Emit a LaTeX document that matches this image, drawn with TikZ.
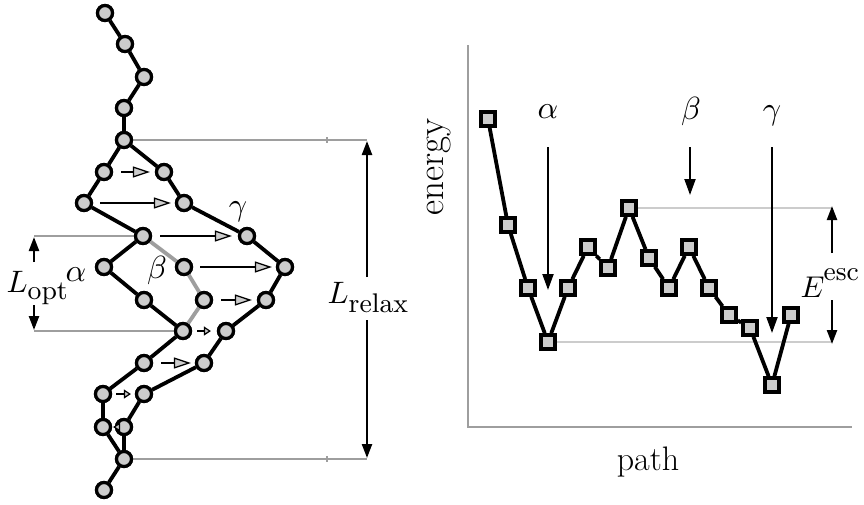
\documentclass[tikz,border=0pt]{standalone}
\usetikzlibrary{arrows.meta}
\definecolor{beadgray}{gray}{0.8}
\definecolor{chaingray}{gray}{0.62}
\definecolor{guidegray}{gray}{0.62}
\definecolor{lightguide}{gray}{0.8}
\begin{document}
\begin{tikzpicture}[x=1pt,y=-1pt,
  bead/.style={circle,draw=black,fill=beadgray,line width=3.2pt,minimum size=15pt,inner sep=0pt},
  sq/.style={rectangle,draw=black,fill=beadgray,line width=3.6pt,minimum size=14pt,inner sep=0pt},
  chain/.style={line width=3.8pt,black},
  gchain/.style={line width=3.8pt,chaingray},
  disp/.style={line width=2.1pt,-{Triangle[length=17pt,width=11pt,fill=beadgray,line width=1.3pt]}},
  tiny/.style={line width=1.7pt,-{Triangle[length=7pt,width=9pt,fill=beadgray,line width=1.2pt]}},
  dim/.style={line width=2.3pt,-{Triangle[length=14pt,width=10pt]}},
  guide/.style={line width=1.5pt,guidegray},
  lguide/.style={line width=1.3pt,lightguide},
  marker/.style={line width=2pt,-{Triangle[length=16pt,width=11pt]}},
  lab/.style={inner sep=0pt,scale=3.2},
  llab/.style={inner sep=0pt,scale=3.1},
  axlab/.style={inner sep=0pt,font=\fontsize{34}{40}\selectfont}
]
\useasboundingbox[fill=white] (0,0) rectangle (864,504);

% ---------------- left panel: beads ----------------
\node[bead] (b1) at (105,13) {};
\node[bead] (b2) at (125,44) {};
\node[bead] (b3) at (144,77) {};
\node[bead] (b4) at (124,108) {};
\node[bead] (b5) at (124,140) {};
\node[bead] (L1) at (104,172) {};
\node[bead] (L2) at (84,203) {};
\node[bead] (R1) at (164,172) {};
\node[bead] (R2) at (184,203) {};
\node[bead] (R3) at (247,236) {};
\node[bead] (J1) at (143,236) {};
\node[bead] (A1) at (104,267) {};
\node[bead] (A2) at (144,300) {};
\node[bead] (B1) at (184,267) {};
\node[bead] (B2) at (204,300) {};
\node[bead] (J2) at (183,331) {};
\node[bead] (G1) at (285,267) {};
\node[bead] (G2) at (266,300) {};
\node[bead] (G3) at (226,331) {};
\node[bead] (G4) at (204,363) {};
\node[bead] (G5) at (144,394) {};
\node[bead] (G6) at (124,427) {};
\node[bead] (A3) at (144,363) {};
\node[bead] (A4) at (103,394) {};
\node[bead] (A5) at (103,427) {};
\node[bead] (b6) at (124,459) {};
\node[bead] (b7) at (104,490) {};

% guide lines (left)
\coordinate (tr) at (367,140);
\coordinate (br) at (367,459);
\coordinate (tl) at (34,236);
\coordinate (bl) at (34,331);
\draw[guide] (b5) -- (tr);
\draw[guide] (b6) -- (br);
\draw[guide] (327,137) -- (327,143);
\draw[guide] (327,456) -- (327,462);
\draw[guide] (tl) -- (J1);
\draw[guide] (bl) -- (J2);

% chain connections
\draw[gchain] (J1) -- (B1) -- (B2) -- (J2);
\draw[chain] (b1) -- (b2) -- (b3) -- (b4) -- (b5);
\draw[chain] (b5) -- (L1) -- (L2) -- (J1);
\draw[chain] (b5) -- (R1) -- (R2) -- (R3);
\draw[chain] (J1) -- (A1) -- (A2) -- (J2);
\draw[chain] (R3) -- (G1) -- (G2) -- (G3) -- (G4) -- (G5) -- (G6) -- (b6);
\draw[chain] (J2) -- (A3) -- (A4) -- (A5) -- (b6);
\draw[chain] (b6) -- (b7);

% redraw beads on top
\foreach \n in {b1,b2,b3,b4,b5,L1,L2,R1,R2,R3,J1,A1,A2,B1,B2,J2,G1,G2,G3,G4,G5,G6,A3,A4,A5,b6,b7}
  \node[bead] at (\n) {};

% displacement arrows
\draw[disp] ([xshift=8pt]L1.east) -- ([xshift=-5pt]R1.west);
\draw[disp] ([xshift=7pt]L2.east) -- ([xshift=-4pt]R2.west);
\draw[disp] ([xshift=8pt]J1.east) -- ([xshift=-6pt]R3.west);
\draw[disp] ([xshift=7pt]B1.east) -- ([xshift=-4pt]G1.west);
\draw[disp] ([xshift=8pt]B2.east) -- ([xshift=-5pt]G2.west);
\draw[disp] ([xshift=8pt]A3.east) -- ([xshift=-4pt]G4.west);
\draw[tiny] ([xshift=5pt]J2.east) -- ([xshift=-6pt]G3.west);
\draw[tiny] ([xshift=4pt]A4.east) -- ([xshift=-4pt]G5.west);
\draw[tiny] ([xshift=-1pt]G6.west) -- ([xshift=1pt]A5.east);

% labels left
\node[lab,anchor=base] (lg) at (238,215) {$\gamma$};
\node[lab,anchor=base] (la) at (76,281) {$\alpha$};
\node[lab,anchor=base] (lb) at (157,278) {$\beta$};
\node[llab,anchor=base west] (lopt) at (6,292) {$L$\raisebox{-2.4pt}{\fontsize{8.7}{10}\selectfont opt}};
\node[llab,anchor=base west] (lrel) at (327,303) {$L$\raisebox{-3pt}{\fontsize{8.7}{10}\selectfont relax}};

% dimension arrows
\coordinate (lo1) at (34,262);
\coordinate (lo2) at (34,305);
\draw[dim] (lo1) -- ([yshift=-1pt]tl);
\draw[dim] (lo2) -- ([yshift=1pt]bl);
\coordinate (lr1) at (367,277);
\coordinate (lr2) at (367,320);
\draw[dim] (lr1) -- ([yshift=-1pt]tr);
\draw[dim] (lr2) -- ([yshift=1pt]br);

% ---------------- right panel ----------------
\coordinate (ytop) at (468,45);
\coordinate (orig) at (468,427);
\coordinate (xend) at (852,427);
\draw[line width=1.5pt,guidegray] (ytop) -- (orig) -- (xend);

\node[sq] (s1) at (488,119) {};
\node[sq] (s2) at (508,225) {};
\node[sq] (s3) at (528,288) {};
\node[sq] (s4) at (548,342) {};
\node[sq] (s5) at (568,288) {};
\node[sq] (s6) at (588,247) {};
\node[sq] (s7) at (608,268) {};
\node[sq] (s8) at (629,208) {};
\node[sq] (s9) at (649,258) {};
\node[sq] (s10) at (669,288) {};
\node[sq] (s11) at (689,247) {};
\node[sq] (s12) at (709,288) {};
\node[sq] (s13) at (729,315) {};
\node[sq] (s14) at (750,328) {};
\node[sq] (s15) at (772,385) {};
\node[sq] (s16) at (791,315) {};

\coordinate (et) at (832,208);
\coordinate (eb) at (832,342);
\draw[lguide] (s8) -- (et);
\draw[lguide] (s4) -- (eb);

\draw[chain] (s1) -- (s2) -- (s3) -- (s4) -- (s5) -- (s6) -- (s7) -- (s8) -- (s9) -- (s10) -- (s11) -- (s12) -- (s13) -- (s14) -- (s15) -- (s16);
\foreach \n in {s1,s2,s3,s4,s5,s6,s7,s8,s9,s10,s11,s12,s13,s14,s15,s16}
  \node[sq] at (\n) {};

% markers
\coordinate (ma1) at (548,147); \coordinate (ma2) at (548,290);
\coordinate (mb1) at (690,147); \coordinate (mb2) at (690,195);
\coordinate (mc1) at (772,147); \coordinate (mc2) at (772,333);
\draw[marker] (ma1) -- (ma2);
\draw[marker] (mb1) -- (mb2);
\draw[marker] (mc1) -- (mc2);
\node[lab,anchor=base] (ra) at (548,118) {$\alpha$};
\node[lab,anchor=base] (rb) at (691,119) {$\beta$};
\node[lab,anchor=base] (rc) at (772,119) {$\gamma$};

% E esc
\coordinate (ee1) at (832,253);
\coordinate (ee2) at (832,300);
\draw[dim] (ee1) -- ([yshift=2pt]et);
\draw[dim] (ee2) -- ([yshift=-2pt]eb);
\node[inner sep=0pt,scale=3.0,anchor=base west] (eesc) at (800,297) {$E$\kern-0.3pt\raisebox{5.6pt}{\fontsize{8.9}{10}\selectfont esc}};

% axis labels
\node[inner sep=0pt,font=\fontsize{37}{42}\selectfont,rotate=90,anchor=base] (ylab) at (443,167) {energy};
\node[axlab,anchor=base] (xlab) at (648,470) {path};
\end{tikzpicture}
\end{document}
